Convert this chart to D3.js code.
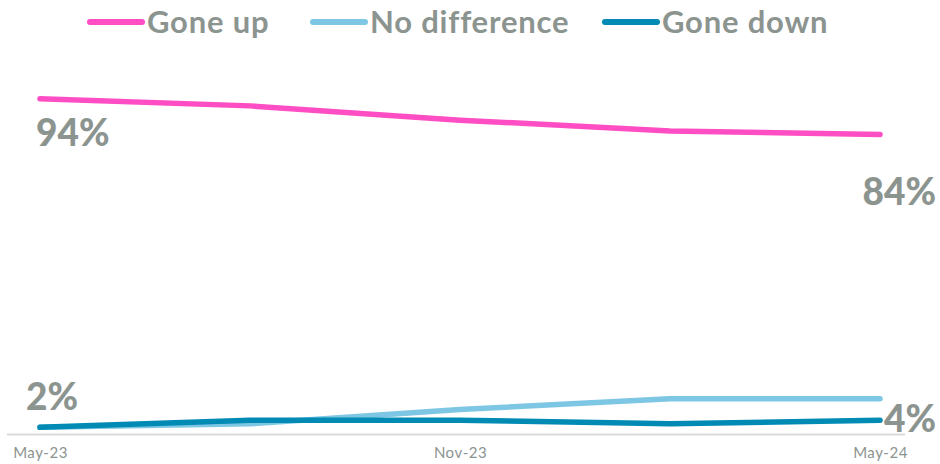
<!DOCTYPE html>
<html><head><meta charset="utf-8">
<script src="https://cdn.jsdelivr.net/npm/d3@7"></script>
<style>
html,body{margin:0;padding:0;background:#fff;}
svg{display:block;font-family:"Lato","Open Sans",sans-serif;}
</style></head>
<body><svg id="c" width="940" height="464"></svg>
<script>
const categories = ["May-23","Aug-23","Nov-23","Feb-24","May-24"];
const tickLabels = ["May-23","Nov-23","May-24"];
const goneUp = [94, 92, 88, 85, 84];
const noDifference = [2, 3, 7, 10, 10];
const goneDown = [2, 4, 4, 3, 4];
const seriesNames = ["Gone up","No difference","Gone down"];
const colors = ["#FF4DC4","#7DC7E4","#008AB4"];

const series = [
  {name: seriesNames[0], values: goneUp, color: colors[0]},
  {name: seriesNames[1], values: noDifference, color: colors[1]},
  {name: seriesNames[2], values: goneDown, color: colors[2]}
];

const svg = d3.select("#c");
const gray = "#8C9490";
const x = d3.scalePoint().domain(categories).range([40, 880]);
const y = d3.scaleLinear().domain([0, 100]).range([434.5, 77.3]);

// axis
const axis = d3.axisBottom(x).tickValues(tickLabels).tickSize(0).tickPadding(13);
const gA = svg.append("g").attr("transform", `translate(0,${y(0)})`).call(axis);
gA.select(".domain").remove();
gA.append("line").attr("x1", 7).attr("x2", 905).attr("y1", 0).attr("y2", 0)
  .attr("stroke", "#D9D9D9").attr("stroke-width", 2);
gA.selectAll("text").attr("fill", gray).attr("font-size", 15)
  .attr("letter-spacing", 0.5)
  .attr("font-family", "Lato, sans-serif");

// lines
const line = d3.line().x((d, i) => x(categories[i])).y(d => y(d));
svg.append("g").selectAll("path").data(series).join("path")
  .attr("d", d => line(d.values))
  .attr("fill", "none").attr("stroke", d => d.color)
  .attr("stroke-width", 5.5).attr("stroke-linecap", "round").attr("stroke-linejoin", "round");

// labels
const lab = (txt, xx, yy, anchor) => svg.append("text").text(txt)
  .attr("x", xx).attr("y", yy).attr("text-anchor", anchor)
  .attr("fill", gray).attr("font-weight", 900).attr("font-size", 37);
lab(goneUp[0] + "%", 36, y(goneUp[0]) + 47, "start");
lab(goneUp[4] + "%", 936, y(goneUp[4]) + 71, "end");
lab(goneDown[0] + "%", 26, y(goneDown[0]) - 17, "start");
lab(goneDown[4] + "%", 936, y(goneDown[4]) + 12, "end");

// legend
const legendPos = [90, 313, 605];
const lg = svg.append("g").selectAll("g").data(series).join("g")
  .attr("transform", (d, i) => `translate(${legendPos[i]},22)`);
lg.append("line").attr("x1", 0).attr("x2", 52).attr("stroke", d => d.color)
  .attr("stroke-width", 6).attr("stroke-linecap", "round");
lg.append("text").attr("x", 57).attr("y", 11).text(d => d.name)
  .attr("fill", gray).attr("font-weight", 700).attr("font-size", 31)
  .attr("letter-spacing", 0.8);
</script></body></html>
